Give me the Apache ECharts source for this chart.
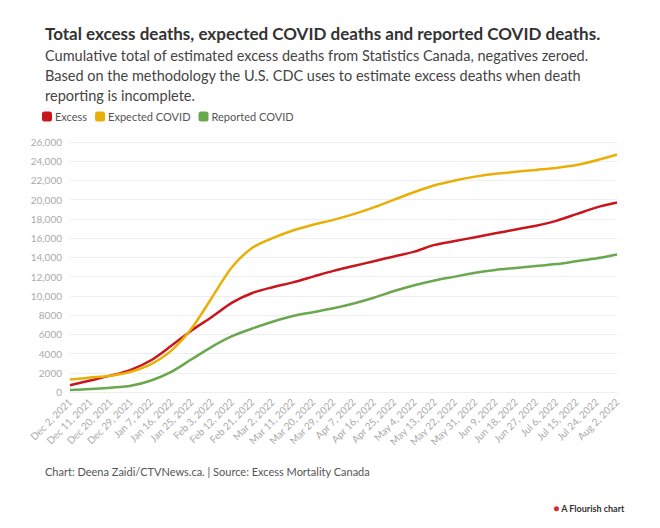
<!DOCTYPE html>
<html>
<head>
<meta charset="utf-8">
<script src="https://cdn.jsdelivr.net/npm/echarts@6/dist/echarts.min.js"></script>
<style>
body { margin: 0; background: #fff; font-family: "Source Sans Pro", Lato, sans-serif; }
#chart { width: 660px; height: 528px; }
</style>
</head>
<body>
<div id="chart"></div>
<script>
const dates = ['Dec 2, 2021', 'Dec 11, 2021', 'Dec 20, 2021', 'Dec 29, 2021', 'Jan 7, 2022', 'Jan 16, 2022',
    'Jan 25, 2022', 'Feb 3, 2022', 'Feb 12, 2022', 'Feb 21, 2022', 'Mar 2, 2022', 'Mar 11, 2022',
    'Mar 20, 2022', 'Mar 29, 2022', 'Apr 7, 2022', 'Apr 16, 2022', 'Apr 25, 2022', 'May 4, 2022',
    'May 13, 2022', 'May 22, 2022', 'May 31, 2022', 'Jun 9, 2022', 'Jun 18, 2022', 'Jun 27, 2022',
    'Jul 6, 2022', 'Jul 15, 2022', 'Jul 24, 2022', 'Aug 2, 2022'];

const excess = [700, 1200, 1700, 2300, 3300, 4800, 6400, 7800, 9300, 10300, 10900, 11400, 12000, 12600,
    13100, 13600, 14100, 14600, 15300, 15700, 16100, 16500, 16900, 17300, 17800, 18500, 19200, 19700];
const expected = [1300, 1500, 1700, 2100, 2900, 4300, 6600, 9800, 13000, 15000, 16000, 16800, 17400, 17900,
    18500, 19200, 20000, 20800, 21500, 22000, 22400, 22700, 22900, 23100, 23300, 23600, 24100, 24700];
const reported = [200, 300, 450, 650, 1200, 2100, 3400, 4700, 5800, 6600, 7300, 7900, 8300, 8700,
    9200, 9800, 10500, 11100, 11600, 12000, 12400, 12700, 12900, 13100, 13300, 13600, 13900, 14300];

const font = 'Lato, "Noto Sans", sans-serif';
const chart = echarts.init(document.getElementById('chart'), null, { renderer: 'svg' });

function line(name, data, color) {
    return { name, type: 'line', data, smooth: 0.3, showSymbol: false, lineStyle: { width: 2.5, color }, itemStyle: { color } };
}

chart.setOption({
    animation: false,
    textStyle: { fontFamily: font },
    title: [
        { text: 'Total excess deaths, expected COVID deaths and reported COVID deaths.', left: 40, top: 20,
          textStyle: { fontSize: 17, fontWeight: 'bold', color: '#333', fontFamily: font } },
        { text: 'Cumulative total of estimated excess deaths from Statistics Canada, negatives zeroed.\nBased on the methodology the U.S. CDC uses to estimate excess deaths when death\nreporting is incomplete.',
          left: 40, top: 40, textStyle: { fontSize: 14.5, fontWeight: 'normal', color: '#444', lineHeight: 20, fontFamily: font } },
        { text: 'Chart: Deena Zaidi/CTVNews.ca. | Source: Excess Mortality Canada', left: 40, top: 461,
          textStyle: { fontSize: 11, fontWeight: 'normal', color: '#555', fontFamily: font } },
        { text: '{d|●} A Flourish chart', right: 30, top: 498,
          textStyle: { fontSize: 9, fontWeight: 'bold', color: '#333', fontFamily: font,
            rich: { d: { color: '#d62b2b', fontSize: 10 } } } }
    ],
    legend: {
        left: 37, top: 106, itemWidth: 10, itemHeight: 10, itemGap: 8, icon: 'roundRect',
        textStyle: { fontSize: 11, color: '#555', padding: [0, 0, 0, -2] },
        data: ['Excess', 'Expected COVID', 'Reported COVID']
    },
    grid: { left: 70, right: 43, top: 142, bottom: 136 },
    xAxis: {
        type: 'category', data: dates, boundaryGap: false,
        axisLine: { lineStyle: { color: '#eee' } }, axisTick: { show: false },
        axisLabel: { rotate: 45, fontSize: 10, color: '#aaa', interval: 0 }
    },
    yAxis: {
        type: 'value', min: 0, max: 26000, interval: 2000,
        axisLabel: { fontSize: 10, color: '#aaa', formatter: v => v >= 10000 ? v.toLocaleString('en-US') : String(v) },
        splitLine: { lineStyle: { color: '#eee' } }
    },
    series: [
        line('Excess', excess, '#c9161d'),
        line('Expected COVID', expected, '#e8b007'),
        line('Reported COVID', reported, '#6aa84f')
    ]
});
</script>
</body>
</html>
